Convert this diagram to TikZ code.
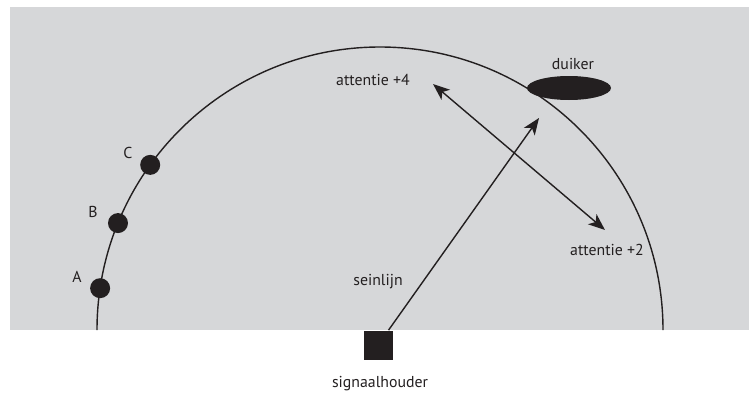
\documentclass[tikz,border=0pt]{standalone}
\usepackage{fontspec}
\setmainfont{PT Sans}
\usepackage{tikz}
\usetikzlibrary{arrows.meta}
\usetikzlibrary{shapes.geometric}
\usetikzlibrary{calc}
\definecolor{zee}{HTML}{D6D7D9}
\definecolor{ink}{HTML}{231F20}
\tikzset{>={Stealth[length=9.5pt, width=7.5pt, inset=2.5pt]}}
\tikzset{
    dot/.style={circle, fill=ink, inner sep=0pt, minimum size=.4cm},
    lbl/.style={text=ink, font=\fontsize{9}{10}\selectfont, inner sep=0pt},
    lijn/.style={draw=ink, line width=.8pt}
}

\begin{document}
\begin{tikzpicture}
    \useasboundingbox(0, 0)rectangle(14.98, 7.84);
    \fill[zee](.2, 1.24)rectangle(14.98, 7.7);
    % cirkel rond de signaalhouder
    \coordinate(m) at(7.6, 1.24);
    \draw[lijn]($(m)+(180:5.66)$)arc[start angle=180, end angle=0, radius=5.66];
    \node[dot](A) at($(m)+(171.5:5.66)$){};
    \node[dot](B) at($(m)+(157.8:5.66)$){};
    \node[dot](C) at($(m)+(144.3:5.66)$){};
    \node[lbl] at(1.54, 2.3){A};
    \node[lbl] at(1.86, 3.6){B};
    \node[lbl] at(2.56, 4.78){C};
    \node[ellipse, fill=ink, minimum width=1.68cm, minimum height=.48cm, inner sep=0pt](duiker) at(11.38, 6.08){};
    \node[lbl] at(11.46, 6.56){duiker};
    \node[fill=ink, minimum size=.58cm, inner sep=0pt](houder) at(7.56, .94){};
    \node[lbl] at(7.6, .16){signaalhouder};
    \coordinate(lijn) at(10.78, 5.48);
    \draw[lijn, ->](houder)--(lijn);
    \node[lbl] at(7.56, 2.2){seinlijn};
    \coordinate(p4) at(8.66, 6.16);
    \coordinate(p2) at(12.1, 3.24);
    \draw[lijn, <->](p4)--(p2);
    \node[lbl](att4) at(7.46, 6.24){attentie +4};
    \node[lbl](att2) at(12.14, 2.84){attentie +2};
\end{tikzpicture}
\end{document}
